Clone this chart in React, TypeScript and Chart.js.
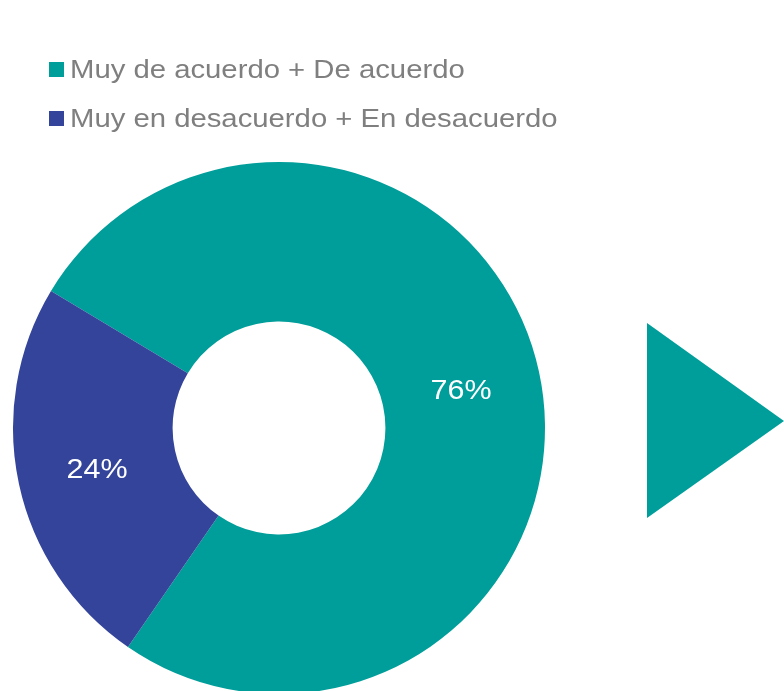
import React, { useEffect, useRef } from "react";
import { Chart, registerables } from "chart.js";

Chart.register(...registerables);

const categories = ["Muy de acuerdo + De acuerdo", "Muy en desacuerdo + En desacuerdo"];
const values = [76, 24];
const valueLabels = ["76%", "24%"];
const colors = ["#009E9A", "#33449A"];

const labelsPlugin = {
  id: "sliceLabels",
  afterDatasetsDraw(chart: any) {
    const ctx = chart.ctx;
    const meta = chart.getDatasetMeta(0);
    meta.data.forEach((arc: any, i: number) => {
      const p = arc.tooltipPosition();
      ctx.save();
      ctx.fillStyle = "#FFFFFF";
      ctx.font = "27px 'Liberation Sans', Arial, sans-serif";
      ctx.textAlign = "center";
      ctx.textBaseline = "middle";
      ctx.translate(p.x, p.y + 3);
      ctx.scale(1.13, 1);
      ctx.fillText(valueLabels[i], 0, 0);
      ctx.restore();
    });
  },
};

const trianglePlugin = {
  id: "arrowShape",
  afterDraw(chart: any) {
    const ctx = chart.ctx;
    ctx.save();
    ctx.fillStyle = colors[0];
    ctx.beginPath();
    ctx.moveTo(647, 323);
    ctx.lineTo(784, 421);
    ctx.lineTo(647, 518);
    ctx.closePath();
    ctx.fill();
    ctx.restore();
  },
};

export default function App() {
  const ref = useRef<HTMLCanvasElement | null>(null);
  useEffect(() => {
    if (!ref.current) return;
    const chart = new Chart(ref.current, {
      type: "doughnut",
      data: {
        labels: categories,
        datasets: [
          {
            data: values,
            backgroundColor: colors,
            borderWidth: 0,
          },
        ],
      },
      options: {
        responsive: false,
        animation: false,
        devicePixelRatio: 1,
        events: [],
        cutout: "40%",
        rotation: -59,
        layout: { padding: { left: 13, right: 239, top: 162, bottom: 6 } },
        plugins: {
          legend: { display: false },
          tooltip: { enabled: false },
        },
      },
      plugins: [labelsPlugin, trianglePlugin],
    });
    return () => chart.destroy();
  }, []);

  return (
    <div
      style={{
        position: "absolute",
        left: 0,
        top: 0,
        width: 784,
        height: 691,
        overflow: "hidden",
        background: "#fff",
        fontFamily: "'Liberation Sans', Arial, sans-serif",
      }}
    >
      <canvas ref={ref} width={784} height={700} style={{ position: "absolute", left: 0, top: 0 }} />
      {categories.map((c, i) => (
        <div
          key={c}
          style={{
            position: "absolute",
            left: 49,
            top: 52.5 + i * 49,
            height: 34,
            display: "flex",
            alignItems: "center",
            fontSize: 26.5,
            color: "#7F7F7F",
            whiteSpace: "nowrap",
          }}
        >
          <span
            style={{
              display: "inline-block",
              width: 15,
              height: 15,
              background: colors[i],
              marginRight: 6,
              flex: "none",
            }}
          />
          <span style={{ display: "inline-block", transform: "scaleX(1.105)", transformOrigin: "left center" }}>
            {c}
          </span>
        </div>
      ))}
    </div>
  );
}
